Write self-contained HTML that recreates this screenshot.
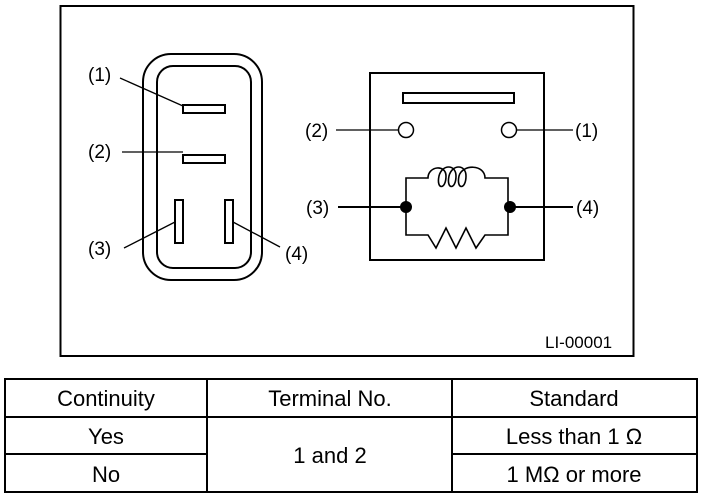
<!DOCTYPE html>
<html><head><meta charset="utf-8"><style>
body{margin:0;background:#fff;width:704px;height:496px;overflow:hidden;font-family:"Liberation Sans",sans-serif}
svg{position:absolute;left:0;top:0}
</style></head><body>
<svg width="704" height="496" viewBox="0 0 704 496" font-family="Liberation Sans, sans-serif">
<rect x="60.5" y="6" width="573" height="350" fill="none" stroke="#000" stroke-width="2"/>
<!-- connector -->
<rect x="143" y="54" width="119" height="226" rx="28" fill="none" stroke="#000" stroke-width="2"/>
<rect x="157" y="66" width="94" height="202" rx="16" fill="none" stroke="#000" stroke-width="2"/>
<rect x="183" y="105" width="42" height="8" fill="#fff" stroke="#000" stroke-width="2"/>
<rect x="183" y="155" width="42" height="8" fill="#fff" stroke="#000" stroke-width="2"/>
<rect x="175" y="200" width="8" height="43" fill="#fff" stroke="#000" stroke-width="2"/>
<rect x="225" y="200" width="8" height="43" fill="#fff" stroke="#000" stroke-width="2"/>
<g stroke="#000" stroke-width="1.3">
<line x1="120" y1="78" x2="183" y2="106"/>
<line x1="122" y1="152" x2="183" y2="152"/>
<line x1="124" y1="248" x2="175" y2="222"/>
<line x1="233" y1="222" x2="280" y2="247"/>
</g>
<g font-size="19" fill="#000">
<text x="88" y="81">(1)</text>
<text x="88" y="158">(2)</text>
<text x="88" y="255">(3)</text>
<text x="285" y="260">(4)</text>
</g>
<!-- relay -->
<rect x="370" y="73" width="174" height="187" fill="none" stroke="#000" stroke-width="2"/>
<rect x="403" y="93" width="111" height="10" fill="none" stroke="#000" stroke-width="2"/>
<circle cx="406" cy="130" r="7.5" fill="#fff" stroke="#000" stroke-width="1.5"/>
<circle cx="509" cy="130" r="7.5" fill="#fff" stroke="#000" stroke-width="1.5"/>
<g stroke="#000" stroke-width="1.3" fill="none">
<line x1="336" y1="130" x2="398" y2="130"/>
<line x1="517" y1="130" x2="573" y2="130"/>
<line x1="338" y1="207" x2="406" y2="207" stroke-width="2"/>
<line x1="508" y1="207" x2="573" y2="207" stroke-width="2"/>
<path d="M406 207 V178 H428 C428 166 446 164 446 176 C446 190 436 190 439 176 C442 164 456 164 456 176 C456 190 446 190 449 176 C452 164 466 164 466 176 C466 190 456 190 459 176 C462 164 485 164 485 178 H508 V207" stroke-width="1.6"/>
<path d="M406 207 V235 H428 L436 248 L446 228 L456 248 L466 228 L476 248 L485 235 H508 V207" stroke-width="1.6"/>
</g>
<circle cx="406" cy="207" r="6" fill="#000"/>
<circle cx="510" cy="207" r="6" fill="#000"/>
<g font-size="19" fill="#000">
<text x="305" y="137">(2)</text>
<text x="575" y="137">(1)</text>
<text x="306" y="214">(3)</text>
<text x="576" y="214">(4)</text>
<text x="545" y="348" font-size="17">LI-00001</text>
</g>
<!-- table -->
<g stroke="#000" stroke-width="2" fill="none">
<rect x="5" y="379" width="692" height="113"/>
<line x1="5" y1="417" x2="697" y2="417"/>
<line x1="5" y1="454" x2="207" y2="454"/>
<line x1="452" y1="454" x2="697" y2="454"/>
<line x1="207" y1="379" x2="207" y2="492"/>
<line x1="452" y1="379" x2="452" y2="492"/>
</g>
<g font-size="22" fill="#000" text-anchor="middle">
<text x="106" y="406">Continuity</text>
<text x="330" y="406">Terminal No.</text>
<text x="574" y="406">Standard</text>
<text x="106" y="444">Yes</text>
<text x="106" y="482">No</text>
<text x="330" y="463">1 and 2</text>
<text x="574" y="444">Less than 1 Ω</text>
<text x="574" y="482">1 MΩ or more</text>
</g>
</svg>
</body></html>
